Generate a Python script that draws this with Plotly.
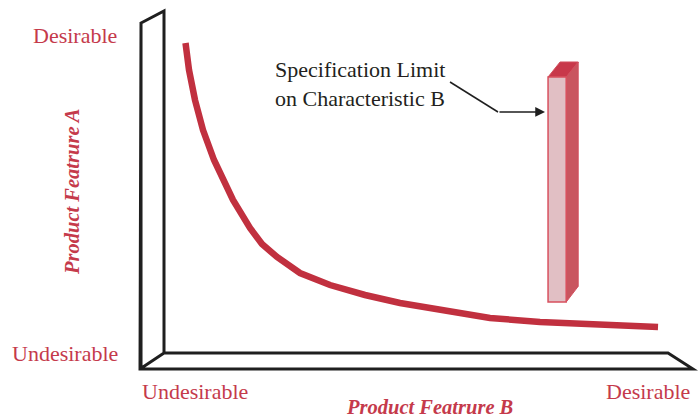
import plotly.graph_objects as go

# ---- data (chart units: 0..100 on each axis of the back frame) ----
feature_b = [4.27, 4.96, 6.15, 7.74, 9.92, 11.90, 13.69, 17.06, 19.44, 22.42,
             26.98, 32.94, 39.88, 46.83, 56.75, 64.68, 74.60, 84.52, 98.02]
feature_a = [90.64, 82.75, 73.98, 65.20, 56.43, 50.00, 44.74, 36.55, 31.87, 28.07,
             23.39, 19.88, 16.96, 14.62, 11.99, 10.23, 9.06, 8.48, 7.60]

spec_limit_x = 76.2        # left edge of the specification-limit bar
spec_width = 3.6
spec_bottom = 14.9
spec_top = 80.7

axis_low_label = "Undesirable"
axis_high_label = "Desirable"
x_title = "Product Featrure B"
y_title = "Product Featrure A"
spec_label = "Specification Limit<br>on Characteristic B"

RED = "#c1303f"
TXT = "#c53a4b"
SERIF = "Liberation Serif"

fig = go.Figure()
fig.add_trace(go.Scatter(x=feature_b, y=feature_a, mode="lines",
                         line=dict(color=RED, width=6.5), hoverinfo="skip"))

shapes = []
# 3D frame
frame = "M -4.56,96.49 L 0,100 L 0,0 L 100,0 L 104.96,-4.68 L -4.76,-4.68 Z M -4.56,-4.68 L -4.56,96.49 M -4.76,-4.68 L 0,0"
shapes.append(dict(type="path", path=frame, line=dict(color="#1f1f1f", width=3), layer="above"))

# 3D bar
dx, dy = 2.38, 4.39
x0, x1 = spec_limit_x, spec_limit_x + spec_width
y0, y1 = spec_bottom, spec_top
side = f"M {x1},{y0} L {x1+dx},{y0+dy+0.2} L {x1+dx},{y1+dy} L {x1},{y1} Z"
top = f"M {x0},{y1} L {x1},{y1} L {x1+dx},{y1+dy} L {x0+dx},{y1+dy} Z"
shapes.append(dict(type="path", path=side, fillcolor="#c9555f", line=dict(color="#d24f5d", width=1)))
shapes.append(dict(type="path", path=top, fillcolor="#c8384a", line=dict(color="#d24f5d", width=1)))
shapes.append(dict(type="rect", x0=x0, x1=x1, y0=y0, y1=y1, fillcolor="#e1bfc4",
                   line=dict(color="#d8505e", width=1.5)))
# arrow first segment
shapes.append(dict(type="line", x0=56.75, y0=79.24, x1=66.27, y1=70.47,
                   line=dict(color="#1f1f1f", width=1.5)))

annotations = [
    dict(x=75.6, y=70.47, ax=66.27, ay=70.47, axref="x", ayref="y", xref="x", yref="y",
         text="", showarrow=True, arrowhead=2, arrowsize=1.3, arrowwidth=1.5, arrowcolor="#1f1f1f"),
    dict(x=21.63, y=78.65, xanchor="left", yanchor="middle", text=spec_label, showarrow=False,
         align="left", font=dict(family=SERIF, size=22, color="#231f20")),
    dict(x=-8.93, y=92.98, xanchor="right", yanchor="middle", text=axis_high_label, showarrow=False,
         font=dict(family=SERIF, size=22, color=TXT)),
    dict(x=-8.73, y=-0.29, xanchor="right", yanchor="middle", text=axis_low_label, showarrow=False,
         font=dict(family=SERIF, size=22, color=TXT)),
    dict(x=-4.76, y=-11.40, xanchor="left", yanchor="middle", text=axis_low_label, showarrow=False,
         font=dict(family=SERIF, size=22, color=TXT)),
    dict(x=104.76, y=-11.11, xanchor="right", yanchor="middle", text=axis_high_label, showarrow=False,
         font=dict(family=SERIF, size=22, color=TXT)),
    dict(x=52.68, y=-15.8, xanchor="center", yanchor="middle", text=f"<b><i>{x_title}</i></b>",
         showarrow=False, font=dict(family=SERIF, size=20.5, color=TXT)),
    dict(x=-18.25, y=47.08, xanchor="center", yanchor="middle", text=f"<b><i>{y_title}</i></b>",
         textangle=-90, showarrow=False, font=dict(family=SERIF, size=20.5, color=TXT)),
]

fig.update_layout(
    width=698, height=418, margin=dict(l=0, r=0, t=0, b=0),
    paper_bgcolor="white", plot_bgcolor="white", showlegend=False,
    xaxis=dict(range=[-32.540, 105.952], visible=False, fixedrange=True),
    yaxis=dict(range=[-19.006, 103.216], visible=False, fixedrange=True),
    shapes=shapes, annotations=annotations,
)
fig.write_html("out.html", config={"displayModeBar": False},
               post_script="document.body.style.margin='0';document.body.style.overflow='hidden';")
